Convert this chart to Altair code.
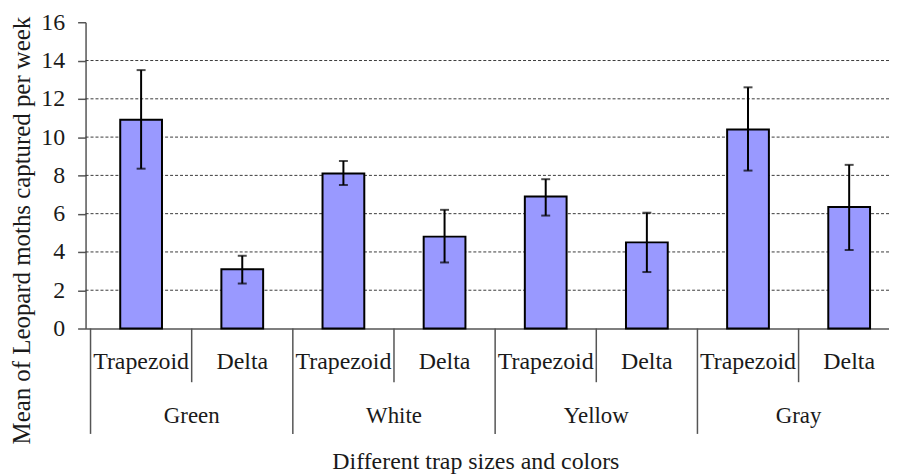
import altair as alt
import pandas as pd

colors = ["Green", "White", "Yellow", "Gray"]
traps = ["Trapezoid", "Delta"]
means = [10.9, 3.1, 8.1, 4.8, 6.9, 4.5, 10.4, 6.35]
lower = [8.35, 2.35, 7.5, 3.45, 5.9, 2.95, 8.25, 4.1]
upper = [13.5, 3.8, 8.75, 6.2, 7.8, 6.05, 12.6, 8.55]
y_ticks = [0, 2, 4, 6, 8, 10, 12, 14, 16]
grid_values = [2, 4, 6, 8, 10, 12, 14]

FONT = "Liberation Serif"
W, H = 808, 308
STEP = 103

rows = []
i = 0
for c in colors:
    for t in traps:
        rows.append({"color": c, "trap": t, "pos": i + 0.5,
                     "mean": means[i], "lo": lower[i], "hi": upper[i]})
        i += 1
df = pd.DataFrame(rows)

groups = pd.DataFrame({"color": colors, "pos": [2 * k + 1 for k in range(len(colors))]})
group_seps = pd.DataFrame({"pos": [2 * k for k in range(len(colors))]})
sub_seps = pd.DataFrame({"pos": [2 * k + 1 for k in range(len(colors))]})
grid_df = pd.DataFrame({"v": grid_values})

xscale = alt.Scale(domain=[0, W / STEP], nice=False, zero=False)
yscale = alt.Scale(domain=[0, 16], nice=False)

x_axis = alt.Axis(labels=False, ticks=False, grid=False, domainColor="#555555",
                  domainWidth=1.5, title="Different trap sizes and colors",
                  titleFont=FONT, titleFontSize=24, titleFontWeight="normal",
                  titleColor="#1a1a1a", titleX=392, titleY=134,
                  titleBaseline="middle", titleAlign="center", titleAnchor="start")
y_axis = alt.Axis(values=y_ticks, tickCount=9, grid=False, domainColor="#555555", domainWidth=1.5,
                  tickColor="#555555", tickSize=8, tickWidth=1.5, labelPadding=13,
                  labelOverlap=False, labelFlush=False,
                  labelFont=FONT, labelFontSize=24, labelColor="#1a1a1a",
                  title="Mean of Leopard  moths captured per week",
                  titleFont=FONT, titleFontSize=25, titleFontWeight="normal",
                  titleColor="#1a1a1a", titleX=-64, titleY=209, titleAngle=270,
                  titleBaseline="middle", titleAlign="center", titleAnchor="start")

base = alt.Chart(df)

grid = alt.Chart(grid_df).mark_rule(color="#3a3a3a", strokeDash=[3, 2], strokeWidth=1).encode(
    y=alt.Y("v:Q", scale=yscale, axis=y_axis)
)

bars = base.mark_bar(size=42, color="#9999FF", stroke="black", strokeWidth=2).encode(
    x=alt.X("pos:Q", scale=xscale, axis=x_axis),
    y=alt.Y("mean:Q", scale=yscale, axis=y_axis),
)

err = base.mark_rule(color="black", strokeWidth=2).encode(
    x=alt.X("pos:Q", scale=xscale, axis=x_axis),
    y=alt.Y("lo:Q", scale=yscale, axis=y_axis),
    y2="hi:Q",
)
cap_lo = base.mark_tick(orient="horizontal", size=9, thickness=2, color="black").encode(
    x=alt.X("pos:Q", scale=xscale, axis=x_axis), y=alt.Y("lo:Q", scale=yscale, axis=y_axis)
)
cap_hi = base.mark_tick(orient="horizontal", size=9, thickness=2, color="black").encode(
    x=alt.X("pos:Q", scale=xscale, axis=x_axis), y=alt.Y("hi:Q", scale=yscale, axis=y_axis)
)

sub_labels = base.mark_text(font=FONT, fontSize=24, color="#1a1a1a", baseline="middle").encode(
    x=alt.X("pos:Q", scale=xscale, axis=x_axis), y=alt.value(H + 34), text="trap:N"
)
group_labels = alt.Chart(groups).mark_text(font=FONT, fontSize=23, color="#1a1a1a",
                                           baseline="middle").encode(
    x=alt.X("pos:Q", scale=xscale, axis=x_axis), y=alt.value(H + 88), text="color:N"
)
sub_rules = alt.Chart(sub_seps).mark_rule(color="#555555", strokeWidth=1.5).encode(
    x=alt.X("pos:Q", scale=xscale, axis=x_axis), y=alt.value(H), y2=alt.value(H + 54)
)
group_rules = alt.Chart(group_seps).mark_rule(color="#555555", strokeWidth=1.5).encode(
    x=alt.X("pos:Q", scale=xscale, axis=x_axis), y=alt.value(H), y2=alt.value(H + 106)
)

chart = alt.layer(
    grid, bars, err, cap_lo, cap_hi, sub_labels, group_labels, sub_rules, group_rules
).properties(
    width=W, height=H,
    autosize=alt.AutoSizeParams(type="none"),
    padding={"left": 78, "top": 13, "right": 0, "bottom": 147},
    background="white",
).configure_view(stroke=None)

chart.save("out.html", embed_options={"renderer": "svg", "actions": False})
